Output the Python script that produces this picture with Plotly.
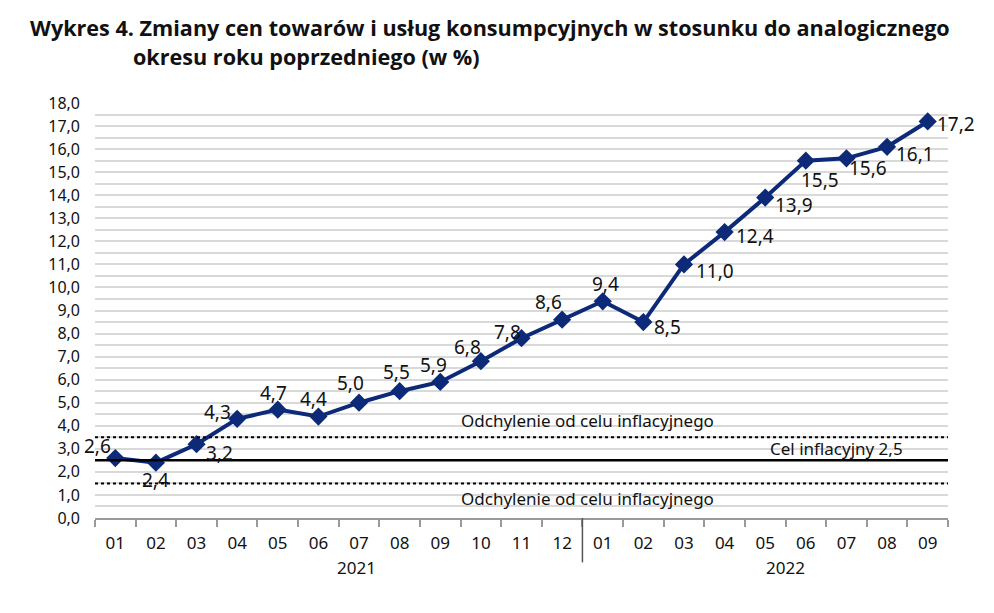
import plotly.graph_objects as go

months = ["01","02","03","04","05","06","07","08","09","10","11","12",
          "01","02","03","04","05","06","07","08","09"]
values = [2.6, 2.4, 3.2, 4.3, 4.7, 4.4, 5.0, 5.5, 5.9, 6.8, 7.8, 8.6,
          9.4, 8.5, 11.0, 12.4, 13.9, 15.5, 15.6, 16.1, 17.2]
years = ["2021", "2022"]
target = 2.5
band_upper = 3.5
band_lower = 1.5
y_ticks = list(range(0, 19))

# label offsets in pixels (style)
label_dx = [-18, 0, 23, -20, -4, -5, -9, -3, -7, -13, -14, -14,
            3, 24, 31, 30, 29, 14, 22, 28, 28]
label_dy = [12, -17, -9, 7, 17, 18, 20, 19, 17, 14, 6, 18,
            17, -5, -7, -4, -7, -19, -10, -7, -3]

x = list(range(len(values)))
navy = "#0d2a78"
font_main = "Noto Sans"
txt = "#111111"

fig = go.Figure()
fig.add_trace(go.Scatter(
    x=x, y=values, mode="lines+markers",
    line=dict(color=navy, width=4),
    marker=dict(symbol="diamond", size=14, color=navy),
    hoverinfo="skip", showlegend=False,
))

def fmt(v):
    return f"{v:.1f}".replace(".", ",")

annotations = []
for i, v in enumerate(values):
    annotations.append(dict(x=i, y=v, text=fmt(v), showarrow=False,
                            xanchor="center", yanchor="middle",
                            xshift=label_dx[i], yshift=label_dy[i],
                            font=dict(size=19, color=txt, family=font_main)))

shapes = [
    dict(type="line", xref="paper", x0=0, x1=1, yref="y", y0=target, y1=target,
         line=dict(color="black", width=2.5), layer="above"),
    dict(type="line", xref="paper", x0=0, x1=1, yref="y", y0=band_upper, y1=band_upper,
         line=dict(color="black", width=2, dash="dot"), layer="above"),
    dict(type="line", xref="paper", x0=0, x1=1, yref="y", y0=band_lower, y1=band_lower,
         line=dict(color="black", width=2, dash="dot"), layer="above"),
    dict(type="line", xref="x", x0=11.5, x1=11.5, yref="paper", y0=0, y1=-0.107,
         line=dict(color="#555555", width=1.5)),
]

def note(**kw):
    d = dict(showarrow=False, xanchor="center", yanchor="middle")
    d.update(kw)
    return d

annotations += [
    note(x=0.577, xref="paper", y=band_upper, yref="y", yshift=17, text="Odchylenie od celu inflacyjnego",
         font=dict(size=17, color=txt, family=font_main)),
    note(x=0.577, xref="paper", y=band_lower, yref="y", yshift=-15, text="Odchylenie od celu inflacyjnego",
         font=dict(size=17, color=txt, family=font_main)),
    note(x=0.869, xref="paper", y=target, yref="y", yshift=12, text=f"Cel inflacyjny {fmt(target)}",
         font=dict(size=17, color=txt, family=font_main)),
    note(x=5.95, xref="x", y=-0.12, yref="paper", text=years[0],
         font=dict(size=17, color=txt, family=font_main)),
    note(x=16.5, xref="x", y=-0.12, yref="paper", text=years[1],
         font=dict(size=17, color=txt, family=font_main)),
    note(x=-0.0785, xref="paper", y=1.181, yref="paper", xanchor="left",
         text="<b>Wykres 4. Zmiany cen towarów i usług konsumpcyjnych w stosunku do analogicznego</b>",
         font=dict(size=21.6, color=txt, family="Open Sans")),
    note(x=0.0422, xref="paper", y=1.111, yref="paper", xanchor="left",
         text="<b>okresu roku poprzedniego (w %)</b>",
         font=dict(size=21.6, color=txt, family="Open Sans")),
]

fig.update_layout(
    width=994, height=613,
    margin=dict(l=95, r=46, t=103, b=95),
    paper_bgcolor="white", plot_bgcolor="white",
    font=dict(family=font_main, size=17, color=txt),
    shapes=shapes, annotations=annotations,
    xaxis=dict(range=[-0.5, len(values) - 0.5], tickvals=x, ticktext=months,
               ticks="", showgrid=False, zeroline=False,
               showline=True, linecolor="#999999", linewidth=1.5,
               tickfont=dict(size=17), ticklabelstandoff=9,
               minor=dict(tickvals=[i - 0.5 for i in range(len(values) + 1)],
                          ticks="outside", ticklen=7, tickcolor="#999999", tickwidth=1.5)),
    yaxis=dict(range=[0, 18], tickvals=y_ticks, ticktext=[fmt(v) for v in y_ticks],
               showgrid=True, gridcolor="#d9d9d9", gridwidth=1.5,
               zeroline=False, showline=False, ticks="", ticklabelstandoff=14,
               tickfont=dict(size=16),
               minor=dict(dtick=0.5, showgrid=True, gridcolor="#d9d9d9", gridwidth=1.5)),
)

fig.write_html("out.html")
